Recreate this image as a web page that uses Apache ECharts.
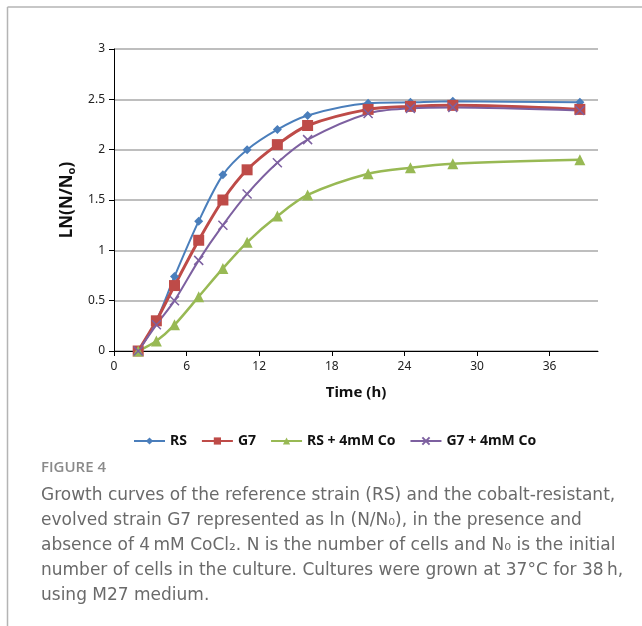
<!DOCTYPE html>
<html>
<head>
<meta charset="utf-8">
<script src="https://cdn.jsdelivr.net/npm/echarts@6/dist/echarts.min.js"></script>
<style>
    html,body{margin:0;padding:0;background:#fff;}
    #growthchart{width:642px;height:626px;}
</style>
</head>
<body>
<div id="growthchart"></div>
<script>
// time points (h)
var timeH = [2, 3.5, 5, 7, 9, 11, 13.5, 16, 21, 24.5, 28, 38.5];
// ln(N/No) per strain
var rsVals   = [0, 0.3, 0.74, 1.29, 1.75, 2.0, 2.2, 2.34, 2.46, 2.47, 2.48, 2.47];
var g7Vals   = [0, 0.3, 0.65, 1.1, 1.5, 1.8, 2.05, 2.24, 2.4, 2.43, 2.44, 2.4];
var rsCoVals = [0, 0.1, 0.26, 0.54, 0.82, 1.08, 1.34, 1.55, 1.76, 1.82, 1.86, 1.9];
var g7CoVals = [0, 0.26, 0.5, 0.9, 1.25, 1.56, 1.87, 2.1, 2.36, 2.41, 2.42, 2.39];
var seriesNames = ['RS', 'G7', 'RS + 4mM Co', 'G7 + 4mM Co'];
var xTicks = [0, 6, 12, 18, 24, 30, 36];

var captionLines = [
    'Growth curves of the reference strain (RS) and the cobalt-resistant,',
    'evolved strain G7 represented as ln (N/N\u2080), in the presence and',
    'absence of 4\u2009mM CoCl\u2082. N is the number of cells and N\u2080 is the initial',
    'number of cells in the culture. Cultures were grown at 37\u00b0C for 38\u2009h,',
    'using M27 medium.'
];

var chartFont = 'Noto Sans';

var makePoints = function(vals){
    var out = [];
    for (var i = 0; i < timeH.length; i++) {
        out.push([timeH[i], vals[i]]);
    }
    return out;
}

var makeSeries = function(name, vals, color, width, symbol, size){
    return {
        name: name,
        type: 'line',
        smooth: 0.3,
        data: makePoints(vals),
        symbol: symbol,
        symbolSize: size,
        lineStyle: {color: color, width: width},
        itemStyle: {color: color, borderColor: color, borderWidth: symbol.indexOf('path') === 0 ? 1.5 : 0},
        emphasis: {disabled: true}
    };
}

var chart = echarts.init(document.getElementById('growthchart'));
chart.setOption({
    backgroundColor: '#fff',
    animation: false,
    textStyle: {fontFamily: chartFont},
    grid: {left: 114, right: 44, top: 49, bottom: 275},
    legend: {
        data: seriesNames,
        left: 128,
        top: 429,
        itemWidth: 31,
        itemHeight: 9,
        itemGap: 14,
        textStyle: {fontFamily: chartFont, fontWeight: 'bold', fontSize: 14, color: '#111'}
    },
    xAxis: {
        type: 'value',
        min: 0,
        max: 40,
        name: 'Time (h)',
        nameLocation: 'middle',
        nameGap: 34,
        nameTextStyle: {fontFamily: chartFont, fontWeight: 'bold', fontSize: 15, color: '#111'},
        axisLine: {onZero: false, lineStyle: {color: '#000', width: 1}},
        axisTick: {show: true, length: 5, customValues: xTicks, lineStyle: {color: '#000'}},
        axisLabel: {customValues: xTicks, color: '#222', fontSize: 12, margin: 10},
        splitLine: {show: false}
    },
    yAxis: {
        type: 'value',
        min: 0,
        max: 3,
        interval: 0.5,
        name: 'LN(N/N{sub|o})',
        nameLocation: 'middle',
        nameGap: 33,
        nameTextStyle: {
            fontFamily: chartFont, fontWeight: 'bold', fontSize: 17, color: '#111',
            rich: {sub: {fontFamily: chartFont, fontWeight: 'bold', fontSize: 11, color: '#111', padding: [9, 0, 0, 0]}}
        },
        axisLine: {show: true, lineStyle: {color: '#000', width: 1}},
        axisTick: {show: true, length: 5, lineStyle: {color: '#000'}},
        axisLabel: {color: '#222', fontSize: 12, margin: 9},
        splitLine: {lineStyle: {color: '#a8a8a8', width: 1.5}}
    },
    series: [
        makeSeries(seriesNames[0], rsVals, '#4A7EBB', 2, 'diamond', 9),
        makeSeries(seriesNames[1], g7Vals, '#BE4B48', 3, 'rect', 11),
        makeSeries(seriesNames[2], rsCoVals, '#98B954', 2.5, 'triangle', 11),
        makeSeries(seriesNames[3], g7CoVals, '#7D60A0', 2, 'path://M0,0L10,10M10,0L0,10', 9)
    ],
    graphic: [
        // page frame
        {type: 'line', shape: {x1: 7.5, y1: 7, x2: 642, y2: 7}, style: {stroke: '#b4b4b4', lineWidth: 1.5}, silent: true},
        {type: 'line', shape: {x1: 7.5, y1: 7, x2: 7.5, y2: 626}, style: {stroke: '#b4b4b4', lineWidth: 1.5}, silent: true},
        {
            type: 'text', left: 41, top: 460,
            style: {text: 'FIGURE 4', fontFamily: 'Open Sans', fontSize: 15, fontWeight: 600, fill: '#8a8a8a'}
        },
        {
            type: 'text', left: 41, top: 483,
            style: {text: captionLines.join('\n'), fontFamily: 'DejaVu Sans', fontSize: 17, lineHeight: 25, fill: '#6a6a6a'}
        }
    ]
});
</script>
</body>
</html>
